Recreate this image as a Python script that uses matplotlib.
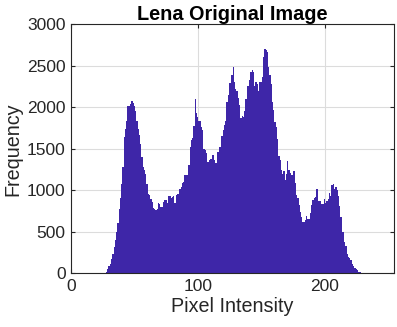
import numpy as np
import matplotlib
matplotlib.use("Agg")
import matplotlib.pyplot as plt

# grey levels 0..255 and pixel counts
levels = np.arange(256)
counts = [
    0, 0, 0, 0, 0, 0, 0, 0, 0, 0, 0, 0, 0, 0, 0, 0,
    0, 0, 0, 0, 0, 0, 0, 0, 0, 2, 4, 8, 16, 48, 84, 116,
    170, 237, 317, 400, 500, 606, 770, 910, 1080, 1280, 1640, 1740, 1840, 2020, 2010, 2045,
    2070, 2050, 2020, 1955, 1840, 1740, 1660, 1560, 1400, 1280, 1240, 1200, 1080, 960, 940, 900,
    860, 790, 780, 760, 770, 850, 840, 800, 800, 860, 880, 880, 850, 930, 930, 910,
    920, 930, 850, 940, 960, 960, 1010, 1040, 1090, 1100, 1180, 1190, 1190, 1310, 1520, 1600,
    1630, 1780, 2095, 1925, 1885, 1830, 1830, 1760, 1730, 1500, 1490, 1455, 1345, 1370, 1380, 1380,
    1430, 1370, 1330, 1330, 1460, 1520, 1520, 1650, 1730, 1785, 1830, 2065, 2150, 2290, 2290, 2385,
    2480, 2300, 2225, 2200, 2110, 2030, 1870, 1900, 1880, 1960, 2100, 2260, 2260, 2325, 2430, 2450,
    2420, 2250, 2300, 2280, 2200, 2300, 2310, 2370, 2600, 2705, 2685, 2660, 2490, 2390, 2280, 2065,
    1965, 1825, 1765, 1615, 1410, 1360, 1240, 1200, 1230, 1130, 1200, 1350, 1240, 1210, 1180, 1180,
    1230, 1090, 940, 910, 820, 740, 675, 620, 620, 640, 690, 650, 650, 730, 820, 880,
    910, 920, 1010, 870, 870, 870, 830, 840, 900, 850, 870, 890, 970, 930, 1060, 1080,
    1020, 1040, 1000, 930, 810, 680, 500, 500, 380, 330, 230, 195, 190, 155, 115, 90,
    60, 50, 36, 20, 12, 5, 3, 3, 3, 3, 3, 0, 0, 0, 0, 0,
    0, 0, 0, 0, 0, 0, 0, 0, 0, 0, 0, 0, 0, 0, 0, 0,
]
xticks = [0, 100, 200]
yticks = [0, 500, 1000, 1500, 2000, 2500, 3000]

txt = '#262626'
plt.rcParams['font.family'] = ['Liberation Sans', 'DejaVu Sans']

fig = plt.figure(figsize=(3.97, 3.27), dpi=100)
ax = fig.add_axes([0.179, 0.164, 0.814, 0.762])
ax.bar(levels, counts, width=1.0, color='#3E26A8', linewidth=0)

ax.set_xlim(0, 255)
ax.set_ylim(0, 3000)
ax.set_xticks(xticks)
ax.set_yticks(yticks)
ax.grid(True, color='#dcdcdc', linewidth=0.8)
ax.set_axisbelow(True)
ax.tick_params(direction='in', length=3, top=True, right=True,
               labelsize=12.5, colors=txt, pad=4)
for s in ax.spines.values():
    s.set_color(txt)
    s.set_linewidth(0.8)

ax.set_title('Lena Original Image', fontsize=14.3, fontweight='bold', color='black', pad=3)
ax.set_xlabel('Pixel Intensity', fontsize=14.2, color=txt, labelpad=2)
ax.set_ylabel('Frequency', fontsize=14.2, color=txt, labelpad=3)

fig.savefig('out.png', dpi=100)
